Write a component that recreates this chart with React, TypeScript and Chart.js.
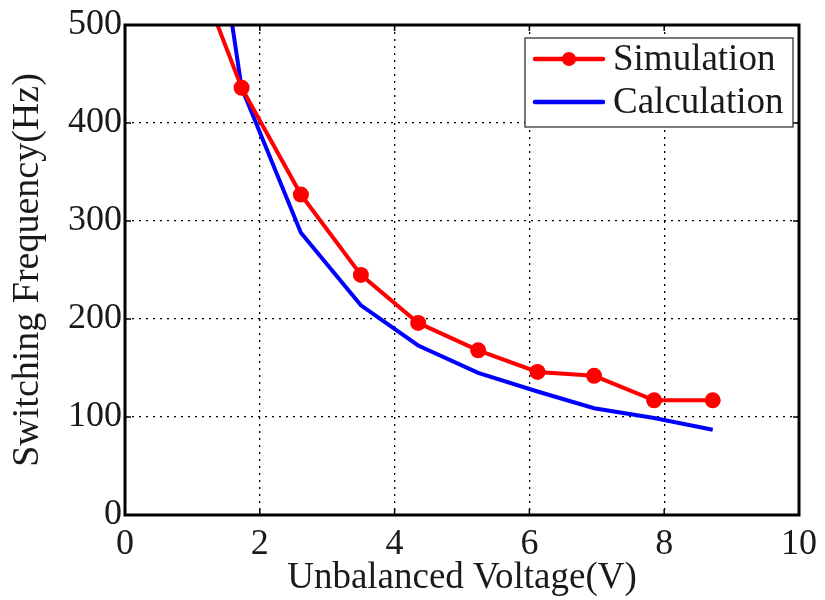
import React, { useEffect, useRef } from "react";
import { Chart, registerables } from "chart.js";

Chart.register(...registerables);

const simX = [0.87, 1.73, 2.61, 3.5, 4.35, 5.24, 6.12, 6.96, 7.85, 8.72];
const simY = [590, 436, 327, 245, 196, 168, 146, 142, 117, 117];
const calcX = [1.45, 1.73, 2.61, 3.5, 4.35, 5.24, 6.12, 6.96, 7.85, 8.72];
const calcY = [565, 436, 288, 214, 173, 145, 126, 109, 99, 87];
const xTicks = [0, 2, 4, 6, 8, 10];
const yTicks = [0, 100, 200, 300, 400, 500];
const seriesNames = ["Simulation", "Calculation"];
const xTitle = "Unbalanced Voltage(V)";
const yTitle = "Switching Frequency(Hz)";

const FONT = "'Liberation Serif', 'Times New Roman', serif";
const TEXT = "#1a1a1a";

const boxPlugin = {
  id: "matlabBox",
  afterDraw(chart: any) {
    const { ctx, chartArea } = chart;
    const { left, right, top, bottom } = chartArea;
    const xs = chart.scales.x;
    const ys = chart.scales.y;
    ctx.save();
    ctx.strokeStyle = "#000";
    ctx.lineWidth = 1.5;
    ctx.setLineDash([]);
    const tl = 6;
    xTicks.forEach((v) => {
      const px = xs.getPixelForValue(v);
      ctx.beginPath();
      ctx.moveTo(px, bottom);
      ctx.lineTo(px, bottom - tl);
      ctx.moveTo(px, top);
      ctx.lineTo(px, top + tl);
      ctx.stroke();
    });
    yTicks.forEach((v) => {
      const py = ys.getPixelForValue(v);
      ctx.beginPath();
      ctx.moveTo(left, py);
      ctx.lineTo(left + tl, py);
      ctx.moveTo(right, py);
      ctx.lineTo(right - tl, py);
      ctx.stroke();
    });
    ctx.lineWidth = 3;
    ctx.strokeRect(left, top, right - left, bottom - top);

    // legend
    const lx = 525, ly = 38, lw = 268, lh = 89;
    ctx.fillStyle = "#fff";
    ctx.fillRect(lx, ly, lw, lh);
    ctx.lineWidth = 1.2;
    ctx.strokeStyle = "#222";
    ctx.strokeRect(lx, ly, lw, lh);
    const rows = [ly + 21, ly + 64];
    const colors = ["#ff0000", "#0000ff"];
    rows.forEach((ry, i) => {
      ctx.strokeStyle = colors[i];
      ctx.lineWidth = 4.5;
      ctx.lineCap = "round";
      ctx.beginPath();
      ctx.moveTo(535, ry);
      ctx.lineTo(603, ry);
      ctx.stroke();
      if (i === 0) {
        ctx.fillStyle = colors[i];
        ctx.beginPath();
        ctx.arc(569, ry, 7, 0, Math.PI * 2);
        ctx.fill();
      }
      ctx.fillStyle = TEXT;
      ctx.font = `37px ${FONT}`;
      ctx.textBaseline = "middle";
      ctx.textAlign = "left";
      ctx.fillText(seriesNames[i], 613, ry + 1);
    });
    ctx.restore();
  },
};

export default function App() {
  const ref = useRef<HTMLCanvasElement | null>(null);
  useEffect(() => {
    document.body.style.margin = "0";
    const canvas = ref.current!;
    const chart = new Chart(canvas, {
      type: "line",
      data: {
        datasets: [
          {
            label: seriesNames[0],
            data: simX.map((x, i) => ({ x, y: simY[i] })),
            borderColor: "#ff0000",
            backgroundColor: "#ff0000",
            borderWidth: 4,
            pointRadius: simX.map((_, i) => (i === 0 ? 0 : 8)),
            pointBorderWidth: 0,
            tension: 0,
          },
          {
            label: seriesNames[1],
            data: calcX.map((x, i) => ({ x, y: calcY[i] })),
            borderColor: "#0000ff",
            backgroundColor: "#0000ff",
            borderWidth: 4,
            pointRadius: 0,
            tension: 0,
          },
        ],
      },
      options: {
        responsive: false,
        animation: false,
        layout: { padding: { top: 25, right: 22, left: 0, bottom: 0 } },
        plugins: { legend: { display: false }, tooltip: { enabled: false } },
        scales: {
          x: {
            type: "linear",
            min: 0,
            max: 10,
            afterBuildTicks: (s: any) => {
              s.ticks = xTicks.map((v) => ({ value: v }));
            },
            afterFit: (s: any) => {
              s.height = 85;
            },
            grid: {
              color: "#000",
              lineWidth: 1.3,
              drawTicks: false,
            },
            border: { display: false, dash: [2, 5] },
            ticks: {
              padding: 8,
              color: TEXT,
              font: { family: FONT, size: 36 },
              maxRotation: 0,
            },
            title: {
              display: true,
              text: xTitle,
              color: TEXT,
              font: { family: FONT, size: 37 },
              padding: { top: 0, bottom: 0 },
            },
          },
          y: {
            type: "linear",
            min: 0,
            max: 500,
            afterBuildTicks: (s: any) => {
              s.ticks = yTicks.map((v) => ({ value: v }));
            },
            afterFit: (s: any) => {
              s.width = 125;
            },
            grid: {
              color: "#000",
              lineWidth: 1.3,
              drawTicks: false,
            },
            border: { display: false, dash: [2, 5] },
            ticks: {
              padding: 3,
              color: TEXT,
              font: { family: FONT, size: 36 },
            },
            title: {
              display: true,
              text: yTitle,
              color: TEXT,
              font: { family: FONT, size: 38 },
              padding: { top: 5, bottom: 0 },
            },
          },
        },
      },
      plugins: [boxPlugin],
    } as any);
    return () => chart.destroy();
  }, []);
  return (
    <div style={{ position: "absolute", left: 0, top: 0, width: 825, height: 600, background: "#fff" }}>
      <canvas ref={ref} width={825} height={600} style={{ display: "block", width: 825, height: 600 }} />
    </div>
  );
}
